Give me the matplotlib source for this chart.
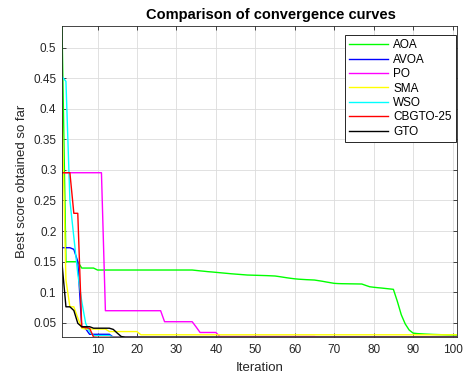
import matplotlib
matplotlib.use("Agg")
import matplotlib.pyplot as plt
import numpy as np

plt.rcParams['font.family'] = ['Liberation Sans', 'DejaVu Sans']

iterations = list(range(1, 102))

aoa = ([0.5355] + [0.1498] * 4 + [0.1394] * 4 + [0.1362] * 25 +
       [0.1355, 0.1348, 0.1342, 0.1335, 0.1330, 0.1324] +
       [0.1318, 0.1312, 0.1306, 0.1300, 0.1295, 0.1290, 0.1285, 0.1280] +
       [0.1278, 0.1276, 0.1274, 0.1272, 0.1270, 0.1267, 0.1264] +
       [0.1255, 0.1245, 0.1235, 0.1226] +
       [0.1218, 0.1212, 0.1208, 0.1204, 0.1201, 0.1198] +
       [0.1188, 0.1178, 0.1166, 0.1155, 0.1144] +
       [0.1140, 0.1138, 0.1137, 0.1136, 0.1135, 0.1134, 0.1133] +
       [0.1110, 0.1088] +
       [0.1080, 0.1073, 0.1067, 0.1060, 0.1053, 0.1046] +
       [0.085, 0.063, 0.048, 0.038, 0.033] +
       [0.0322, 0.0318, 0.0314, 0.0311, 0.0308, 0.0306, 0.0304, 0.0302, 0.0300, 0.0299, 0.0298])

avoa = [0.1727] * 3 + [0.170, 0.150, 0.043, 0.040] + [0.031] * 6 + [0.0263] * 88

po = [0.2954] * 11 + [0.0696] * 15 + [0.0516] * 8 + [0.043] + [0.034] * 5 + [0.0274] * 25 + [0.0263] * 36

sma = [0.40, 0.12, 0.076, 0.076, 0.058, 0.041] + [0.0396] * 6 + [0.0355] * 8 + [0.0302] * 81

wso = [0.4525, 0.445, 0.25, 0.19, 0.13, 0.085, 0.049, 0.035] + [0.0290] * 5 + [0.0263] * 88

cbgto = [0.2954] * 3 + [0.229] * 2 + [0.043, 0.042, 0.0407, 0.0265] + [0.0261] * 92

gto = [0.147, 0.076, 0.076, 0.070, 0.049] + [0.0434] * 3 + [0.041] * 5 + [0.039, 0.033, 0.0275] + [0.0261] * 85

series_names = ['AOA', 'AVOA', 'PO', 'SMA', 'WSO', 'CBGTO-25', 'GTO']
series_values = [aoa, avoa, po, sma, wso, cbgto, gto]
series_colors = ['#00ff00', '#0000ff', '#ff00ff', '#ffff00', '#00ffff', '#ff0000', '#000000']

xticks = [10, 20, 30, 40, 50, 60, 70, 80, 90, 100]
yticks = [0.05, 0.1, 0.15, 0.2, 0.25, 0.3, 0.35, 0.4, 0.45, 0.5]
ytick_labels = ['0.05', '0.1', '0.15', '0.2', '0.25', '0.3', '0.35', '0.4', '0.45', '0.5']

fig = plt.figure(figsize=(4.63, 3.77), dpi=100)
ax = fig.add_axes([62 / 463, (377 - 337.3) / 377, (456.5 - 62) / 463, (337.3 - 26) / 377])

for name, vals, col in zip(series_names, series_values, series_colors):
    ax.plot(iterations, vals, color=col, lw=1.0, label=name)

ax.set_xlim(1, 101)
ax.set_ylim(0.0261, 0.5355)
ax.set_xticks(xticks)
ax.set_yticks(yticks)
ax.set_yticklabels(ytick_labels)

tc = '#262626'
ax.tick_params(direction='in', length=3, width=0.6, colors=tc, labelsize=8.5,
               top=True, right=True, labelcolor=tc)
ax.tick_params(axis='x', pad=5)
ax.tick_params(axis='y', pad=4)
for s in ax.spines.values():
    s.set_color(tc)
    s.set_linewidth(0.6)
ax.grid(True, color='#dcdcdc', lw=0.6)
ax.set_axisbelow(True)

ax.set_title('Comparison of convergence curves', fontsize=10.5, fontweight='bold', pad=5, x=0.53)
ax.set_xlabel('Iteration', fontsize=9.5, color=tc)
ax.set_ylabel('Best score obtained so far', fontsize=9.5, color=tc)
ax.xaxis.set_label_coords(0.5, -0.08)
ax.yaxis.set_label_coords(-0.085, 0.5)

leg = ax.legend(loc='upper right', bbox_to_anchor=(0.9985, 0.97), fontsize=8.5,
                handlelength=3.3, labelspacing=0.2, borderpad=0.35,
                handletextpad=0.45, fancybox=False, framealpha=1, borderaxespad=0)
leg.get_frame().set_edgecolor(tc)
leg.get_frame().set_linewidth(0.7)

fig.savefig('out.png', dpi=100, facecolor='white')
